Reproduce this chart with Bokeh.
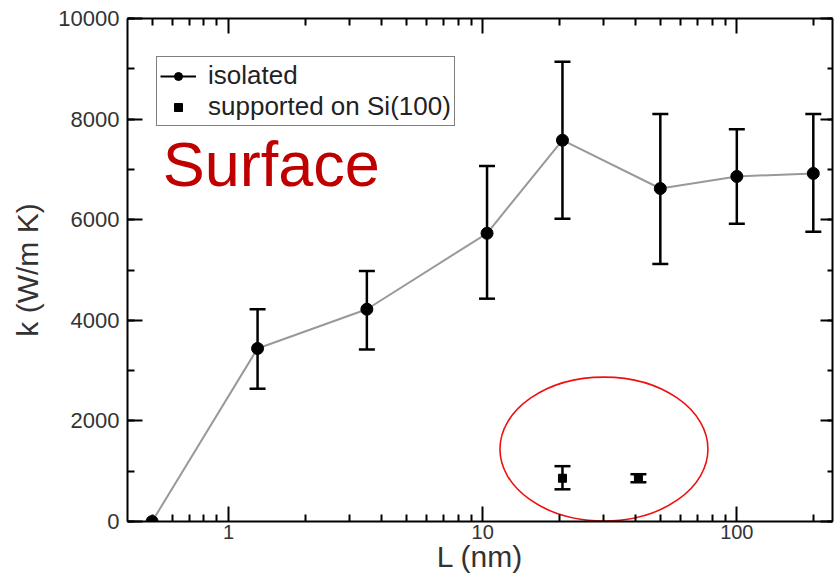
from bokeh.plotting import figure
from bokeh.models import (ColumnDataSource, Whisker, TeeHead, LogAxis, LinearAxis, FixedTicker,
                          SingleIntervalTicker, Legend, LegendItem, Label, NumeralTickFormatter, Range1d)
from bokeh.embed import file_html
from bokeh.resources import INLINE

# ---------------- data ----------------
iso_L = [0.5, 1.3, 3.5, 10.4, 20.6, 50, 100, 200]
iso_k = [0, 3440, 4220, 5730, 7580, 6620, 6860, 6920]

err_L = [1.3, 3.5, 10.4, 20.6, 50, 100, 200]
err_upper = [4220, 4980, 7070, 9140, 8100, 7800, 8100]
err_lower = [2640, 3420, 4430, 6020, 5120, 5920, 5760]

sup_L = [20.6, 41]
sup_k = [860, 860]
sup_upper = [1100, 940]
sup_lower = [640, 780]

x_major = [1, 10, 100]
x_minor = [0.5, 0.6, 0.7, 0.8, 0.9, 2, 3, 4, 5, 6, 7, 8, 9,
           20, 30, 40, 50, 60, 70, 80, 90, 200]

legend_labels = ["isolated", "supported on Si(100)"]
annot_text = "Surface"
annot_pos = (0.55, 7100)
ellipse_center = (30, 1440)
ellipse_size = (208, 2860)   # width in screen px, height in data units

FONT = "Liberation Sans"

p = figure(width=836, height=575, x_axis_type="log",
           x_range=Range1d(0.4, 238), y_range=Range1d(0, 10000),
           output_backend="svg", toolbar_location=None,
           min_border_left=127, min_border_right=4, min_border_top=18, min_border_bottom=10)
p.xgrid.visible = False
p.ygrid.visible = False
p.outline_line_color = None
p.background_fill_color = "white"
p.border_fill_color = "white"

xt = FixedTicker(ticks=x_major, minor_ticks=x_minor)
yt = SingleIntervalTicker(interval=2000, num_minor_ticks=2)


def style_axis(ax, show_labels, tin=15, tmin=7, fs="20px"):
    ax.axis_line_color = "black"
    ax.axis_line_width = 2
    ax.major_tick_line_color = "black"
    ax.major_tick_line_width = 2
    ax.minor_tick_line_color = "black"
    ax.minor_tick_line_width = 2
    ax.major_tick_in = tin
    ax.major_tick_out = 0
    ax.minor_tick_in = tmin
    ax.minor_tick_out = 0
    if not show_labels:
        ax.major_label_text_font_size = "1px"
        ax.major_label_text_alpha = 0
        ax.major_label_standoff = 0
    else:
        ax.major_label_text_font = FONT
        ax.major_label_text_font_size = fs
        ax.major_label_text_color = "#333333"


xa = p.xaxis[0]
xa.ticker = xt
xa.formatter = NumeralTickFormatter(format="0")
style_axis(xa, True, fs="20px")
xa.major_label_standoff = 3
xa.axis_label = "L (nm)"
xa.axis_label_text_font = FONT
xa.axis_label_text_font_size = "30px"
xa.axis_label_text_font_style = "normal"
xa.axis_label_text_color = "#333333"
xa.axis_label_standoff = -2

ya = p.yaxis[0]
ya.ticker = yt
style_axis(ya, True, fs="22px")
ya.major_label_standoff = 8
ya.axis_label = "k (W/m K)"
ya.axis_label_text_font = FONT
ya.axis_label_text_font_size = "30px"
ya.axis_label_text_font_style = "normal"
ya.axis_label_text_color = "#333333"
ya.axis_label_standoff = 11

top = LogAxis(ticker=xt)
style_axis(top, False)
p.add_layout(top, "above")
right = LinearAxis(ticker=yt)
style_axis(right, False, tin=12, tmin=5)
p.add_layout(right, "right")

# ---------------- glyphs ----------------
err_src = ColumnDataSource(dict(L=err_L, upper=err_upper, lower=err_lower))
sup_src = ColumnDataSource(dict(L=sup_L, upper=sup_upper, lower=sup_lower))

p.line(iso_L, iso_k, line_color="#999999", line_width=2)

for src, hs in ((err_src, 16), (sup_src, 16)):
    w = Whisker(source=src, base="L", upper="upper", lower="lower", dimension="height",
                line_color="black", line_width=2.5,
                upper_head=TeeHead(size=hs, line_color="black", line_width=2.5),
                lower_head=TeeHead(size=hs, line_color="black", line_width=2.5))
    p.add_layout(w)

circ_r = p.scatter(iso_L, iso_k, marker="circle", size=12, color="black")
sq_r = p.scatter(sup_L, sup_k, marker="square", size=8, color="black")
leg_line = p.line(x=[1], y=[-5000], line_color="black", line_width=2)

p.ellipse(x=[ellipse_center[0]], y=[ellipse_center[1]], width=ellipse_size[0], height=ellipse_size[1],
          width_units="screen", height_units="data",
          fill_color=None, line_color="#ee1111", line_width=1.6)

p.add_layout(Label(x=annot_pos[0], y=annot_pos[1], text=annot_text, text_font=FONT,
                   text_font_size="63px", text_color="#c00000", text_baseline="middle"))

legend = Legend(items=[LegendItem(label=legend_labels[0], renderers=[leg_line, circ_r]),
                       LegendItem(label=legend_labels[1], renderers=[sq_r])],
                location=(29, 395), margin=0, padding=3, spacing=0,
                glyph_width=36, glyph_height=20, label_height=26, label_standoff=12,
                label_text_font=FONT, label_text_font_size="26px", label_text_color="#222222",
                border_line_color="black", border_line_width=1.5,
                background_fill_color="white", background_fill_alpha=1)
p.add_layout(legend)

open("out.html", "w").write(file_html(p, INLINE))
